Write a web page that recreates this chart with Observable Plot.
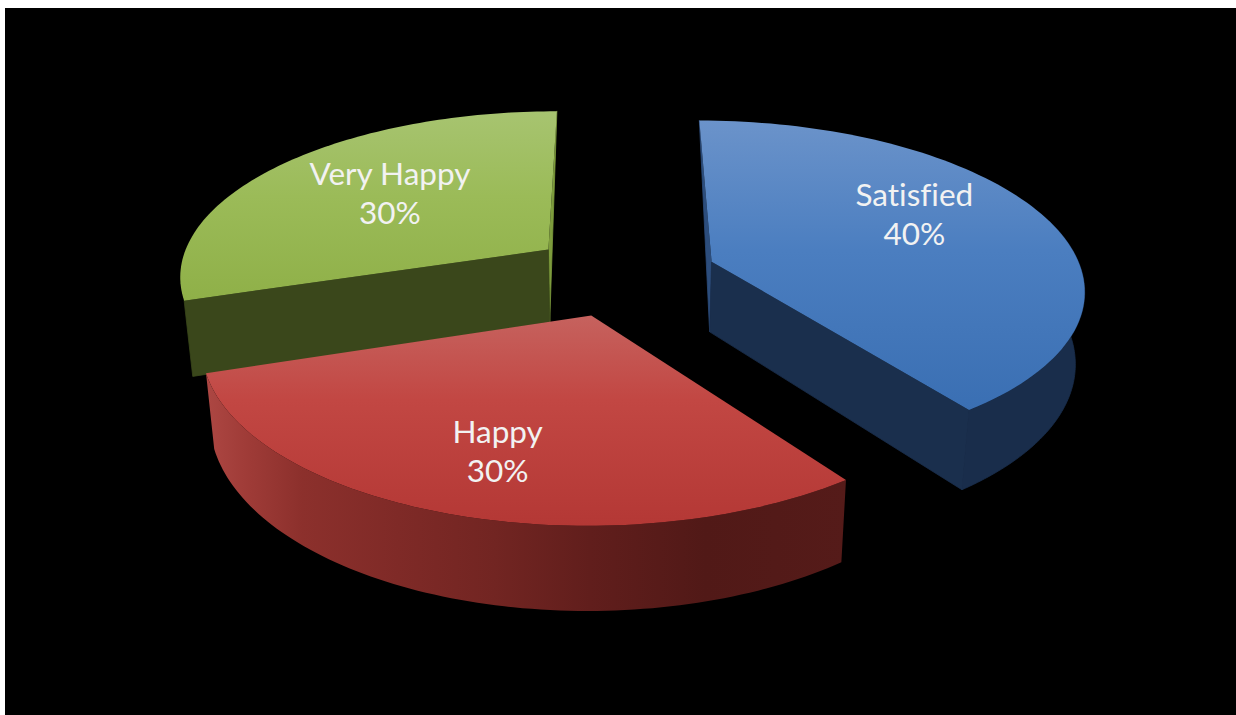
<!DOCTYPE html>
<html>
<head>
<meta charset="utf-8">
<script src="https://cdn.jsdelivr.net/npm/d3@7"></script>
<script src="https://cdn.jsdelivr.net/npm/@observablehq/plot@0.6"></script>
<style>
html,body{margin:0;padding:0;background:#fff;overflow:hidden}
svg{display:block}
svg text{font-variant-ligatures:none}
</style>
</head>
<body>
<script>
const categories = ["Satisfied", "Happy", "Very Happy"];
const shares = [40, 30, 30];

// Projection of the tilted pie
const W = 1236, H = 715;
const cx = 615, cy = 289, R = 376, K = 170, persp = 0.15, shrink = 0.98;
const depths = [72, 70.5, 75];
const explodeU = [0.262, -0.063, -0.185];
const explodeV = [-0.168, 0.15, -0.244];
const labelDU = [0.588, -0.211, -0.47];
const labelDV = [-0.295, 0.688, -0.369];
const palette = ["blue", "red", "green"];

function project(u, v, z) {
  const w = 1 / (1 - persp * v);
  const s = z ? shrink : 1;
  return {x: cx + R * u * w * s, y: cy + K * v * w + z * w};
}
function onRim(i, a, z) {
  return project(explodeU[i] + Math.cos(a), explodeV[i] + Math.sin(a), z ? depths[i] : 0);
}
const rad = d => d * Math.PI / 180;
const total = d3.sum(shares);
let acc = -90;
const slices = categories.map((name, i) => {
  const a0 = rad(acc);
  acc += shares[i] / total * 360;
  return {i, name, a0, a1: rad(acc)};
});
function arc(i, a0, a1, z, reverse) {
  const n = 90, pts = [];
  for (let k = 0; k <= n; ++k) pts.push(onRim(i, a0 + (a1 - a0) * k / n, z));
  return reverse ? pts.reverse() : pts;
}
const apex = (s, z) => project(explodeU[s.i], explodeV[s.i], z ? depths[s.i] : 0);
const poly = (pts, fill, seam) => Plot.line(pts, {x: "x", y: "y", fill, stroke: seam ?? "none", strokeWidth: seam ? 0.8 : 0, curve: "linear"});
const cutFace = (s, a, fill) => poly([apex(s, 0), apex(s, 1), onRim(s.i, a, 1), onRim(s.i, a, 0)], fill, fill);
const sliver = (s, a, fill) => poly([apex(s, 0), apex(s, 1), onRim(s.i, a, 0)], fill, fill);
const outerFace = (s, a0, a1, fill, seam) => poly([...arc(s.i, a0, a1, 0, false), ...arc(s.i, a0, a1, 1, true)], fill, seam);
const topFace = s => poly([apex(s, 0), ...arc(s.i, s.a0, s.a1, 0, false)], `url(#top-${palette[s.i]})`);

const [blueSlice, redSlice, greenSlice] = slices;
const sideMarks = [
  // Very Happy: only the two cut faces show
  sliver(greenSlice, greenSlice.a1, "#7d9c3c"),
  cutFace(greenSlice, greenSlice.a0, "#3a471b"),
  topFace(greenSlice),
  // Satisfied: cut faces and the front part of the rim
  sliver(blueSlice, blueSlice.a0, "#2c4d7c"),
  outerFace(blueSlice, rad(-15), blueSlice.a1, "#192d4b", "#192d4b"),
  cutFace(blueSlice, blueSlice.a1, "#1a2f4d"),
  topFace(blueSlice),
  // Happy: rim in front
  outerFace(redSlice, redSlice.a0, redSlice.a1, "url(#wall-red)"),
  topFace(redSlice)
];

const gradients = {
  "top-blue": [[0, "#6b93ca"], [0.45, "#4b7ec0"], [1, "#3a6fb3"]],
  "top-red": [[0, "#c6625e"], [0.4, "#c24743"], [1, "#b43835"]],
  "top-green": [[0, "#a7c470"], [0.45, "#9bbb58"], [1, "#8fb048"]]
};
const wallStops = [[0, "#ad4743"], [0.06, "#a03c38"], [0.15, "#8c302c"], [0.3, "#7f2a27"], [0.45, "#722522"], [0.6, "#611e1c"], [0.78, "#511917"], [1, "#551b19"]];

function defs() {
  const d = d3.create("svg:defs");
  for (const [id, stops] of Object.entries(gradients)) {
    const g = d.append("linearGradient").attr("id", id).attr("x1", 0).attr("x2", 0).attr("y1", 0).attr("y2", 1);
    stops.forEach(([o, c]) => g.append("stop").attr("offset", o).attr("stop-color", c));
  }
  const g = d.append("linearGradient").attr("id", "wall-red").attr("x1", 0).attr("x2", 1).attr("y1", 0).attr("y2", 0);
  wallStops.forEach(([o, c]) => g.append("stop").attr("offset", o).attr("stop-color", c));
  return d.node();
}

const labels = slices.map(s => {
  const p = project(explodeU[s.i] + labelDU[s.i], explodeV[s.i] + labelDV[s.i], 0);
  return {...p, text: `${s.name}\n${shares[s.i]}%`};
});

const chart = Plot.plot({
  width: W, height: H, margin: 0,
  x: {domain: [0, W], range: [0, W], axis: null},
  y: {domain: [0, H], range: [0, H], axis: null},
  style: {background: "#fff"},
  marks: [
    defs,
    Plot.rect([{}], {x1: () => 5, x2: () => W, y1: () => 8, y2: () => H, fill: "#000"}),
    ...sideMarks,
    Plot.text(labels, {
      x: "x", y: "y", text: "text", fill: "#f2f2f2", dy: -2.5,
      fontFamily: "Lato", fontSize: 31.5, lineHeight: 1.24, textAnchor: "middle"
    })
  ]
});
document.body.appendChild(chart);
</script>
</body>
</html>
